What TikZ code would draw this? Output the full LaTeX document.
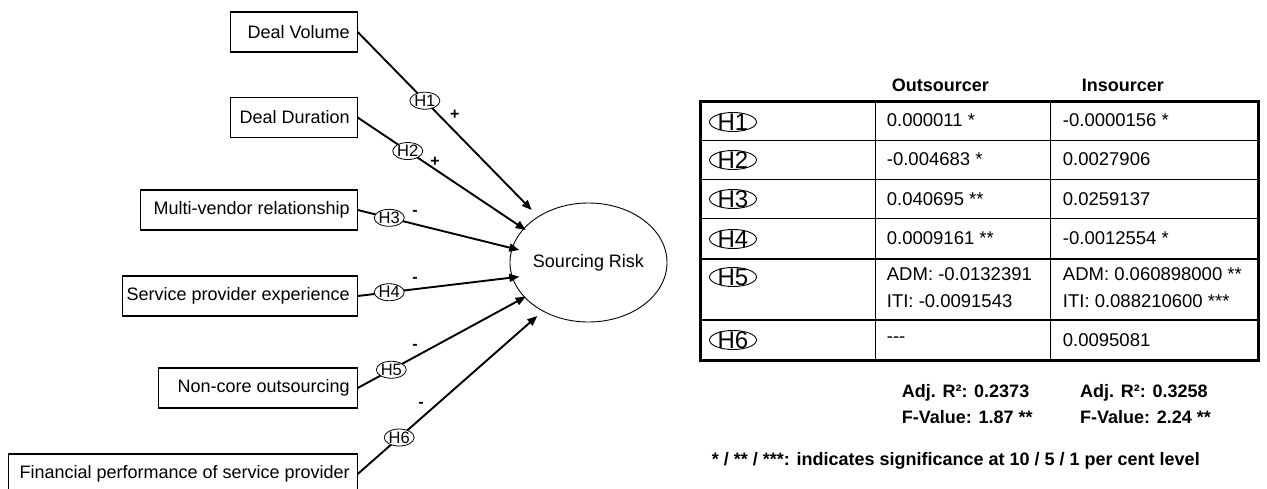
\documentclass[tikz,border=0pt]{standalone}
\usepackage{fontspec}
\setmainfont{Liberation Sans}
\usetikzlibrary{shapes.geometric,arrows.meta}
\newcommand{\rtext}[2]{\makebox[#1][r]{#2}}
\begin{document}
\begin{tikzpicture}[x=1pt,y=-1pt,
  fbox/.style={draw, line width=1.1pt, minimum height=40pt, inner xsep=7.5pt, inner ysep=0pt, anchor=east, font=\fontsize{18}{20}\selectfont},
  risk/.style={draw, ellipse, line width=0.9pt, minimum width=125pt, minimum height=119pt, inner sep=0pt, font=\fontsize{18}{20}\selectfont},
  conn/.style={line width=1.9pt, -{Triangle[length=10pt,width=8pt]}},
  hlab/.style={draw, ellipse, fill=white, line width=0.8pt, inner sep=0pt, minimum width=30pt, minimum height=17pt},
  hfont/.style={inner sep=0pt, font=\fontsize{16.5}{16.5}\selectfont},
  sgn/.style={inner sep=0pt, font=\bfseries\fontsize{16}{16}\selectfont},
  thlab/.style={draw, ellipse, line width=0.9pt, inner sep=0pt, minimum width=47pt, minimum height=19pt},
  thfont/.style={inner sep=0pt, font=\fontsize{24}{24}\selectfont},
  cell/.style={anchor=west, inner sep=0pt, font=\fontsize{18.5}{20}\selectfont},
  boldtxt/.style={anchor=west, inner sep=0pt, font=\bfseries\fontsize{18}{20}\selectfont},
  inner line/.style={line width=1.3pt},
]
\useasboundingbox (0,0) rectangle (1267,488);

% factor boxes
\node[fbox] (b1) at (357.7,32) {\rtext{111.7pt}{Deal Volume}};
\node[fbox] (b2) at (357.7,117.5) {\rtext{111.7pt}{Deal Duration}};
\node[fbox] (b3) at (357.7,210) {\rtext{201.7pt}{Multi-vendor relationship}};
\node[fbox] (b4) at (357.7,296) {\rtext{219.7pt}{Service provider experience}};
\node[fbox] (b5) at (357.7,388) {\rtext{183.7pt}{Non-core outsourcing}};
\node[fbox] (b6) at (357.7,474) {\rtext{333.7pt}{Financial performance of service provider}};

% outcome
\node[risk] (risk) at (588.5,262.5) {Sourcing Risk};

% arrow end points
\coordinate (t1) at (531.7,210);
\coordinate (t2) at (525.7,230);
\coordinate (t3) at (519.3,250);
\coordinate (t4) at (519.3,276.7);
\coordinate (t5) at (525.7,296.7);
\coordinate (t6) at (537.3,316);

% connectors
\draw[conn] (b1.east) -- node[hlab, pos=.386, label={[hfont]center:H1}] (h1) {} (t1);
\draw[conn] (b2.east) -- node[hlab, pos=.298, label={[hfont]center:H2}] (h2) {} (t2);
\draw[conn] (b3.east) -- node[hlab, pos=.195, label={[hfont]center:H3}] (h3) {} (t3);
\draw[conn] (b4.east) -- node[hlab, pos=.195, label={[hfont]center:H4}] (h4) {} (t4);
\draw[conn] (b5.east) -- node[hlab, pos=.2, label={[hfont]center:H5}] (h5) {} (t5);
\draw[conn] (b6.east) -- node[hlab, pos=.231, label={[hfont]center:H6}] (h6) {} (t6);

% signs
\node[sgn] (s1) at (454.7,115) {+};
\node[sgn] (s2) at (435,161.7) {+};
\node[sgn] (s3) at (415,213) {-};
\node[sgn] (s4) at (415,280) {-};
\node[sgn] (s5) at (415,346.7) {-};
\node[sgn] (s6) at (421,405) {-};

% table
\foreach \yy in {140.7,179.3,218.3,259,320}
  \draw[inner line] (700,\yy) -- (1258.3,\yy);
\draw[inner line] (875.3,101) -- (875.3,360);
\draw[inner line] (1050.7,101) -- (1050.7,360);
\draw[line width=3pt] (700,101) rectangle (1258.3,360);

\node[boldtxt] (hdo) at (891.7,85) {Outsourcer};
\node[boldtxt] (hdi) at (1081.7,85) {Insourcer};

\node[thlab, label={[thfont]center:H1}] (r1) at (733,122) {};
\node[thlab, label={[thfont]center:H2}] (r2) at (733,160) {};
\node[thlab, label={[thfont]center:H3}] (r3) at (733,199) {};
\node[thlab, label={[thfont]center:H4}] (r4) at (733,239) {};
\node[thlab, label={[thfont]center:H5}] (r5) at (733,277) {};
\node[thlab, label={[thfont]center:H6}] (r6) at (733,340) {};

\node[cell] (o1) at (886.7,120) {0.000011 *};
\node[cell] (i1) at (1062.7,120) {-0.0000156 *};
\node[cell] (o2) at (886.7,159.5) {-0.004683 *};
\node[cell] (i2) at (1062.7,159.5) {0.0027906};
\node[cell] (o3) at (886.7,198.7) {0.040695 **};
\node[cell] (i3) at (1062.7,198.7) {0.0259137};
\node[cell] (o4) at (886.7,238.5) {0.0009161 **};
\node[cell] (i4) at (1062.7,238.5) {-0.0012554 *};
\node[cell] (o5a) at (886.7,274.3) {ADM: -0.0132391};
\node[cell] (o5b) at (886.7,301) {ITI: -0.0091543};
\node[cell] (i5a) at (1062.7,274.3) {ADM: 0.060898000 **};
\node[cell] (i5b) at (1062.7,301) {ITI: 0.088210600 ***};
\node[cell] (o6) at (886.7,340) {{-}{-}{-}};
\node[cell] (i6) at (1062.7,340) {0.0095081};

% statistics
\node[boldtxt] (ar1) at (901.7,393) {Adj. R²: 0.2373};
\node[boldtxt] (fv1) at (901.7,417) {F-Value: 1.87 **};
\node[boldtxt] (ar2) at (1080,393) {Adj. R²: 0.3258};
\node[boldtxt] (fv2) at (1080,417) {F-Value: 2.24 **};

\node[boldtxt] (note) at (711.7,460.7) {* / ** / ***: indicates significance at 10 / 5 / 1 per cent level};
\end{tikzpicture}
\end{document}
